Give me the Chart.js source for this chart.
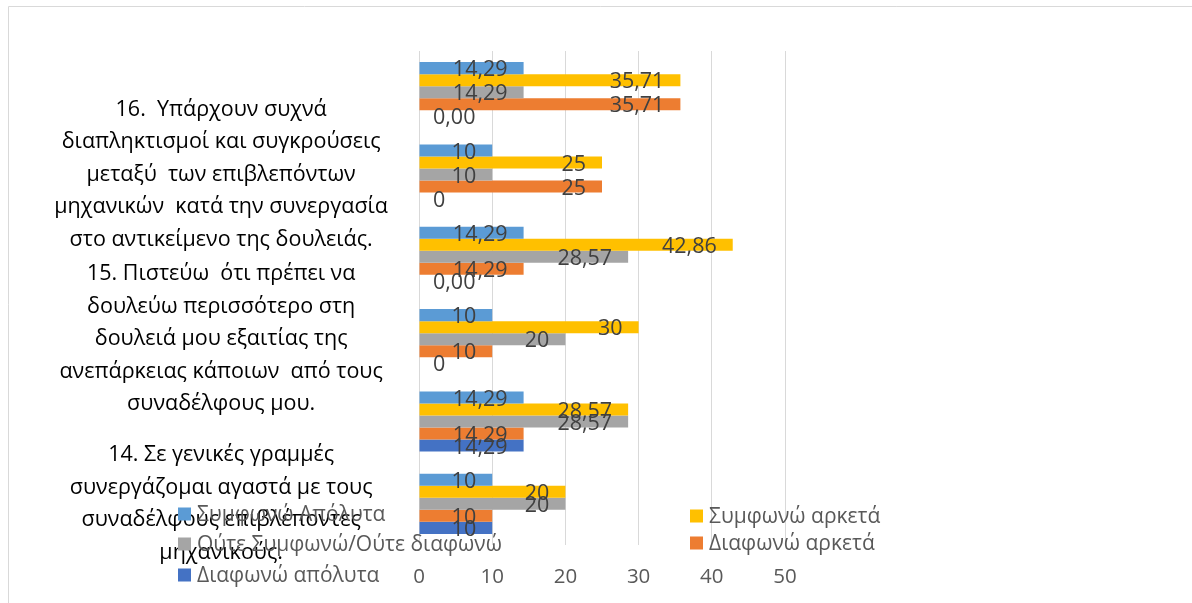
<!DOCTYPE html>
<html>
<head>
<meta charset="utf-8">
<script src="https://cdn.jsdelivr.net/npm/chart.js@4.4.1/dist/chart.umd.min.js"></script>
<style>
  html, body { margin: 0; padding: 0; background: #fff; }
  #wrap { width: 1192px; height: 603px; position: relative; }
</style>
</head>
<body>
<div id="wrap"><canvas id="barChart"></canvas></div>
<script>
// Κατηγορίες (κάθε ερώτηση έχει δύο σειρές: % και πλήθος)
const categories = [
    '',
    ['16.  Υπάρχουν συχνά', 'διαπληκτισμοί και συγκρούσεις', 'μεταξύ  των επιβλεπόντων', 'μηχανικών  κατά την συνεργασία', 'στο αντικείμενο της δουλειάς.'],
    '',
    ['15. Πιστεύω  ότι πρέπει να', 'δουλεύω περισσότερο στη', 'δουλειά μου εξαιτίας της', 'ανεπάρκειας κάποιων  από τους', 'συναδέλφους μου.'],
    '',
    ['14. Σε γενικές γραμμές', 'συνεργάζομαι αγαστά με τους', 'συναδέλφους επιβλέποντες', 'μηχανικούς.']
];
// true = ποσοστό (2 δεκαδικά), false = ακέραιος
const rowIsPercent = [true, false, true, false, true, false];

const seriesNames = ['Συμφωνώ Απόλυτα', 'Συμφωνώ αρκετά', 'Ούτε Συμφωνώ/Ούτε διαφωνώ', 'Διαφωνώ αρκετά', 'Διαφωνώ απόλυτα'];
const seriesColors = ['#5B9BD5', '#FFC000', '#A5A5A5', '#ED7D31', '#4472C4'];

const agreeFully   = [14.29, 10, 14.29, 10, 14.29, 10];
const agreeSome    = [35.71, 25, 42.86, 30, 28.57, 20];
const neutral      = [14.29, 10, 28.57, 20, 28.57, 20];
const disagreeSome = [35.71, 25, 14.29, 10, 14.29, 10];
const disagreeFull = [0, 0, 0, 0, 14.29, 10];

const xTicks = [0, 10, 20, 30, 40, 50];

const FONT = "'Open Sans', 'Noto Sans', sans-serif";

// Περίγραμμα περιοχής γραφήματος (μόνο πάνω/αριστερά φαίνονται)
const framePlugin = {
    id: 'frame',
    beforeDraw(chart) {
        const ctx = chart.ctx;
        ctx.save();
        ctx.strokeStyle = '#d9d9d9';
        ctx.lineWidth = 1;
        ctx.beginPath();
        ctx.moveTo(8.5, chart.height);
        ctx.lineTo(8.5, 6.5);
        ctx.lineTo(chart.width, 6.5);
        ctx.stroke();
        ctx.restore();
    }
};

// Ετικέτες τιμών μέσα στο τέλος της μπάρας
const valueLabels = {
    id: 'valueLabels',
    afterDatasetsDraw(chart) {
        const ctx = chart.ctx;
        const x0 = chart.scales.x.getPixelForValue(0);
        ctx.save();
        ctx.font = '21.5px ' + FONT;
        ctx.fillStyle = '#404040';
        ctx.textBaseline = 'middle';
        chart.data.datasets.forEach((ds, di) => {
            chart.getDatasetMeta(di).data.forEach((bar, i) => {
                const v = ds.data[i];
                const txt = rowIsPercent[i] ? v.toFixed(2).replace('.', ',') : String(v);
                if (v === 0) {
                    ctx.textAlign = 'left';
                    ctx.fillText(txt, x0 + 14, bar.y + 2);
                } else {
                    ctx.textAlign = 'right';
                    ctx.fillText(txt, bar.x - 16, bar.y + 2);
                }
            });
        });
        ctx.restore();
    }
};

// Υπόμνημα όπως στο Excel (επικαλύπτει την περιοχή)
const legendPlugin = {
    id: 'customLegend',
    afterDraw(chart) {
        const ctx = chart.ctx;
        const spots = [[178, 514], [690, 516], [178, 544], [690, 543], [178, 575]];
        ctx.save();
        ctx.font = '21px ' + FONT;
        ctx.textBaseline = 'middle';
        ctx.textAlign = 'left';
        chart.data.datasets.forEach((ds, i) => {
            const [x, y] = spots[i];
            ctx.fillStyle = ds.backgroundColor;
            ctx.fillRect(x, y - 6.5, 13, 13);
            ctx.fillStyle = '#595959';
            ctx.fillText(ds.label, x + 19, y + 1);
        });
        ctx.restore();
    }
};

const allSeries = [agreeFully, agreeSome, neutral, disagreeSome, disagreeFull];

new Chart(document.getElementById('barChart'), {
    type: 'bar',
    data: {
        labels: categories,
        datasets: allSeries.map((vals, i) => ({
            label: seriesNames[i],
            data: vals,
            backgroundColor: seriesColors[i],
            borderWidth: 0,
            categoryPercentage: 0.73,
            barPercentage: 1
        }))
    },
    options: {
        indexAxis: 'y',
        responsive: true,
        maintainAspectRatio: false,
        animation: false,
        layout: { padding: { top: 51, right: 407, bottom: 0, left: 0 } },
        plugins: {
            legend: { display: false },
            tooltip: { enabled: false }
        },
        scales: {
            x: {
                min: 0,
                max: 50,
                afterBuildTicks: (scale) => { scale.ticks = xTicks.map(v => ({ value: v })); },
                grid: { color: '#d9d9d9', drawTicks: false },
                border: { display: false },
                ticks: { padding: 20, color: '#595959', font: { family: FONT, size: 20.5 } },
                afterFit: (scale) => { scale.height = 58; }
            },
            y: {
                grid: { display: false, drawTicks: false },
                border: { display: false },
                ticks: {
                    autoSkip: false,
                    crossAlign: 'center',
                    padding: 31,
                    color: '#000',
                    font: { family: FONT, size: 21.5, lineHeight: 1.51 }
                },
                afterFit: (scale) => {
                    scale.width = 419;
                    scale.paddingTop = 0;
                    scale.paddingBottom = 0;
                }
            }
        }
    },
    plugins: [framePlugin, valueLabels, legendPlugin]
});
</script>
</body>
</html>
